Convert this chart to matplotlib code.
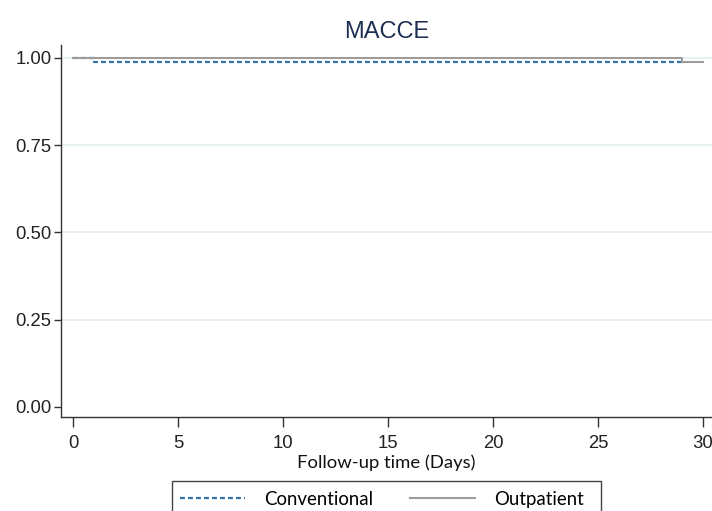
import matplotlib
matplotlib.use("Agg")
import matplotlib.pyplot as plt
from matplotlib.patches import Rectangle

# Kaplan-Meier style step data
conv_days = [0, 1, 29]
conv_surv = [1.0, 0.988, 0.988]
out_days = [0, 29, 30]
out_surv = [1.0, 0.988, 0.988]

yticks = [0.0, 0.25, 0.50, 0.75, 1.00]
xticks = [0, 5, 10, 15, 20, 25, 30]

fig = plt.figure(figsize=(7.12, 5.11), dpi=100)
ax = fig.add_axes([0.0857, 0.184, 0.9143, 0.728])

# faint horizontal grid like Stata's scheme
for y in yticks[1:]:
    ax.axhline(y, color="#e3eef0", lw=1.2, zorder=0)

ax.step(conv_days, conv_surv, where="post", color="#3473a6", lw=1.6,
        linestyle=(0, (2.2, 1.4)), label="Conventional", zorder=2)
ax.step(out_days, out_surv, where="post", color="#9c9c9c", lw=1.5,
        label="Outpatient", zorder=3)

ax.set_xlim(-0.57, 30.43)
ax.set_ylim(-0.029, 1.037)
ax.set_xticks(xticks)
ax.set_yticks(yticks)
ax.set_yticklabels(["%.2f" % v for v in yticks])

for s in ["top", "right"]:
    ax.spines[s].set_visible(False)
for s in ["left", "bottom"]:
    ax.spines[s].set_color("#333333")
    ax.spines[s].set_linewidth(1.0)

ax.tick_params(axis="y", direction="out", length=5, width=1, color="#333333",
               labelsize=13.3, labelcolor="#222222", pad=2)
ax.tick_params(axis="x", direction="out", length=7, width=1, color="#333333",
               labelsize=13.3, labelcolor="#222222", pad=6)
for lab in ax.get_xticklabels() + ax.get_yticklabels():
    lab.set_family("Liberation Sans")

ax.set_xlabel("Follow-up time (Days)", fontsize=13.3, family="Lato",
              color="#111111", labelpad=1.5)
fig.text(387 / 712, 1 - 32 / 511, "MACCE", ha="center", va="center",
         fontsize=17, family="Liberation Sans", color="#1c2f52")

# legend box drawn by hand so it matches the Stata padding
fig.patches.append(Rectangle((172 / 712, -0.05), (601 - 172) / 712,
                             0.05 + 1 - 481 / 511, transform=fig.transFigure,
                             fill=False, edgecolor="#444444", lw=1.0))
fig.legend(loc="center left", bbox_to_anchor=(180 / 712, 1 - 499 / 511),
           ncol=2, frameon=False, handlelength=3.5, columnspacing=2.0,
           handletextpad=1.0, borderpad=0, borderaxespad=0,
           prop={"family": "Lato", "size": 13.4})

plt.savefig("out.png", dpi=100)
plt.close(fig)
